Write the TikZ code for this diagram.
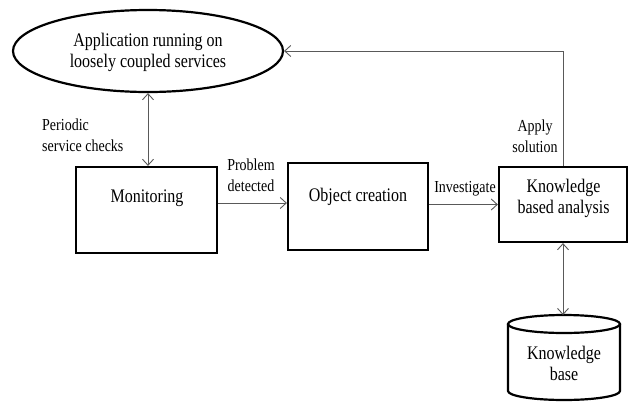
\documentclass[tikz,border=0pt]{standalone}
\usepackage{fontspec}
\usepackage{graphicx}
\setmainfont{Liberation Serif}
\usetikzlibrary{arrows.meta, shapes.geometric}

% text set slightly taller than wide
\newcommand{\tallc}[1]{\scalebox{1}[1.2]{\begin{tabular}{@{}c@{}}#1\end{tabular}}}
\newcommand{\talll}[1]{\scalebox{1}[1.2]{\begin{tabular}{@{}l@{}}#1\end{tabular}}}

\tikzset{
  stepbox/.style={draw=black, line width=2.2pt, minimum width=#1, inner sep=0pt},
  maintext/.style={font=\fontsize{16}{16.7}\selectfont, inner sep=0pt},
  labeltext/.style={font=\fontsize{14}{16.7}\selectfont, inner sep=0pt},
  link/.style={draw=black!65, line width=0.9pt},
  tip/.tip={Straight Barb[length=6pt, width=11pt, line width=0.9pt]},
}

\begin{document}
\begin{tikzpicture}[x=1pt, y=-1pt]
  \useasboundingbox (0,0) rectangle (630,405);

  % application ellipse
  \node[draw=black, line width=2.2pt, ellipse, minimum width=270pt, minimum height=82pt,
        inner sep=0pt] (app) at (148,51) {};
  \node[maintext] (apptext) at (148,53)
        {\tallc{Application running on\\loosely coupled services}};

  % process boxes
  \node[stepbox=141pt, minimum height=86pt] (mon) at (146.5,210) {};
  \node[maintext] (montext) at (147,198) {\tallc{Monitoring}};

  \node[stepbox=140pt, minimum height=87pt] (obj) at (358,206.5) {};
  \node[maintext] (objtext) at (358,197) {\tallc{Object creation}};

  \node[stepbox=128pt, minimum height=75pt] (kba) at (563,204.5) {};
  \node[maintext] (kbatext) at (563.5,199) {\tallc{Knowledge\\based analysis}};

  % knowledge base cylinder
  \coordinate (kbtop) at (563,315);
  \draw[line width=2.2pt, fill=white]
    (508,324) -- (508,391) arc[start angle=180, end angle=0, x radius=56, y radius=9]
    -- (620,324);
  \draw[line width=2.2pt] (564,324) ellipse[x radius=56, y radius=9];
  \node[maintext] (kbtext) at (564,366) {\tallc{Knowledge\\base}};

  % connectors
  \draw[link, {tip}-{tip}] (app.south) -- (app.south |- mon.north);
  \draw[link, -{tip}] (mon.east |- 0,203) -- (obj.west |- 0,203);
  \draw[link, -{tip}] (obj.east |- kba.west) -- (kba.west);
  \draw[link, -{tip}] (kba.north) |- (app.east);
  \draw[link, {tip}-{tip}] (kba.south) -- (kba.south |- kbtop);

  % connector labels
  \node[labeltext, anchor=west] (lpsc) at (42,137) {\talll{Periodic\\service checks}};
  \node[labeltext] (lpd) at (251,177) {\tallc{Problem\\detected}};
  \node[labeltext] (linv) at (465,188.5) {\tallc{Investigate}};
  \node[labeltext] (las) at (535,138) {\tallc{Apply\\solution}};
\end{tikzpicture}
\end{document}
